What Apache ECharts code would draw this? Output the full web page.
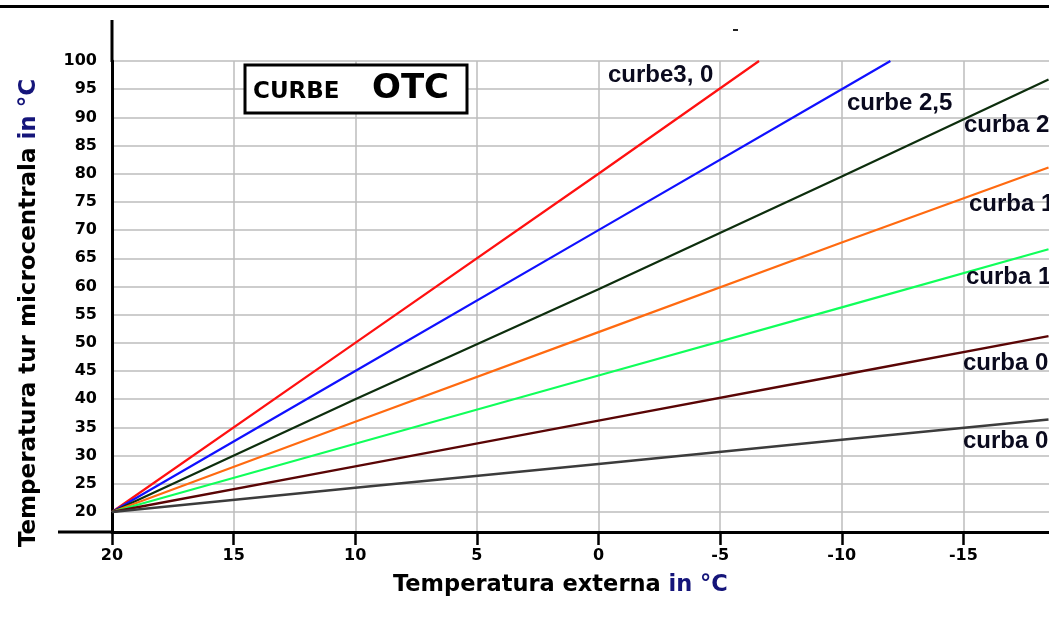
<!DOCTYPE html>
<html>
<head>
<meta charset="utf-8">
<script src="https://cdn.jsdelivr.net/npm/echarts@6/dist/echarts.min.js"></script>
<style>
html,body{margin:0;padding:0;background:#fff;}
#chart{width:1049px;height:639px;}
</style>
</head>
<body>
<div id="chart"></div>
<script>
// Outdoor temperature points (°C) and flow temperature
const tempExt = [20, 10, 0, -10, -18.5];
const curba20 = [20, 40, 59.5, 79.5, 96.7];
const curba15 = [20, 36, 51.9, 67.8, 81.1];
const curba10 = [20, 32.1, 44.2, 56.3, 66.6];
const curba05 = [20, 28.1, 36.2, 44.3, 51.2];
const curba04 = [20, 24.3, 28.5, 32.8, 36.4];
const tempExt30 = [20, 10, 0, -6.6];
const curbe30 = [20, 50, 80, 100];
const tempExt25 = [20, 10, 0, -10, -12];
const curbe25 = [20, 45, 70, 95, 100];

const xTicks = [20, 15, 10, 5, 0, -5, -10, -15];
const yTicks = [20, 25, 30, 35, 40, 45, 50, 55, 60, 65, 70, 75, 80, 85, 90, 95, 100];
const curveNames = ['curbe3, 0', 'curbe 2,5', 'curba 2', 'curba 1,5', 'curba 1', 'curba 0,8', 'curba 0,4'];
const curveColors = ['#ff1010', '#1010ff', '#0d2e0d', '#ff6a10', '#10ff5a', '#5a0505', '#3c3c3c'];
const curveWidths = [2.2, 2.2, 2.2, 2.2, 2.2, 2.4, 2.6];

function pairs(xs, ys) { return xs.map((x, i) => [x, ys[i]]); }
const seriesData = [
  pairs(tempExt30, curbe30),
  pairs(tempExt25, curbe25),
  pairs(tempExt, curba20),
  pairs(tempExt, curba15),
  pairs(tempExt, curba10),
  pairs(tempExt, curba05),
  pairs(tempExt, curba04)
];

const labelPos = [[608, 75], [847, 103], [964, 125], [969, 204], [966, 277], [963, 363], [963, 441]];

const chart = echarts.init(document.getElementById('chart'));
const comic = 'DejaVu Sans';
const gridColor = '#bdbdbd';

const graphics = [
  { type: 'rect', shape: { x: 0, y: 5, width: 1049, height: 3 }, style: { fill: '#000' }, z: 10 },
  { type: 'rect', shape: { x: 733, y: 29, width: 5, height: 2 }, style: { fill: '#222' }, z: 10 },
  { type: 'line', shape: { x1: 58, y1: 532, x2: 113, y2: 532 }, style: { stroke: '#000', lineWidth: 3 }, z: 10 },
  { type: 'line', shape: { x1: 112, y1: 20, x2: 112, y2: 62 }, style: { stroke: '#000', lineWidth: 3 }, z: 10 },
  { type: 'rect', shape: { x: 245, y: 65, width: 222, height: 48 }, style: { fill: '#fff', stroke: '#000', lineWidth: 3 }, z: 20 },
  { type: 'text', x: 253, y: 92, z: 21, style: { text: 'CURBE', font: 'bold 23px "' + comic + '"', fill: '#000', align: 'left', verticalAlign: 'middle' } },
  { type: 'text', x: 372, y: 89, z: 21, style: { text: 'OTC', font: 'bold 34px "' + comic + '"', fill: '#000', align: 'left', verticalAlign: 'middle' } },
  { type: 'text', x: 393, y: 585, z: 21, style: {
      text: '{a|Temperatura externa} {b|in °C}', align: 'left', verticalAlign: 'middle',
      font: 'bold 22.5px "' + comic + '"',
      rich: { a: { font: 'bold 22.5px "' + comic + '"', fill: '#000' }, b: { font: 'bold 22.5px "' + comic + '"', fill: '#15157a' } }
  } },
  { type: 'text', x: 29, y: 313, rotation: Math.PI / 2, z: 21, style: {
      text: '{a|Temperatura tur microcentrala} {b|in °C}', align: 'center', verticalAlign: 'middle',
      font: 'bold 23px "' + comic + '"',
      rich: { a: { font: 'bold 23px "' + comic + '"', fill: '#000' }, b: { font: 'bold 23px "' + comic + '"', fill: '#15157a' } }
  } }
];
curveNames.forEach((n, i) => {
  graphics.push({ type: 'text', x: labelPos[i][0], y: labelPos[i][1], z: 21,
    style: { text: n, font: 'bold 24px "Liberation Sans"', fill: '#0a0a1e', align: 'left', verticalAlign: 'middle' } });
});

chart.setOption({
  animation: false,
  backgroundColor: '#fff',
  grid: { left: 112, top: 61, right: 0, height: 471, containLabel: false },
  xAxis: {
    type: 'value', inverse: true, min: -18.52, max: 20,
    axisLine: { onZero: false, lineStyle: { color: '#000', width: 3 } },
    axisTick: { show: true, length: 13, customValues: xTicks, lineStyle: { color: '#000', width: 2.5 } },
    axisLabel: { customValues: xTicks, margin: 16, color: '#000', fontFamily: comic, fontWeight: 'bold', fontSize: 16 },
    splitLine: { show: true, lineStyle: { color: gridColor, width: 1.5 } }
  },
  yAxis: {
    type: 'value', min: 16.45, max: 100,
    axisLine: { show: true, onZero: false, lineStyle: { color: '#000', width: 3 } },
    axisTick: { show: false, customValues: yTicks },
    axisLabel: { customValues: yTicks, margin: 15, color: '#000', fontFamily: comic, fontWeight: 'bold', fontSize: 16 },
    splitLine: { show: true, lineStyle: { color: gridColor, width: 1.5 } }
  },
  graphic: graphics,
  series: seriesData.map((d, i) => ({
    type: 'line', name: curveNames[i], data: d, showSymbol: false,
    lineStyle: { color: curveColors[i], width: curveWidths[i] }, itemStyle: { color: curveColors[i] }
  }))
});
</script>
</body>
</html>
